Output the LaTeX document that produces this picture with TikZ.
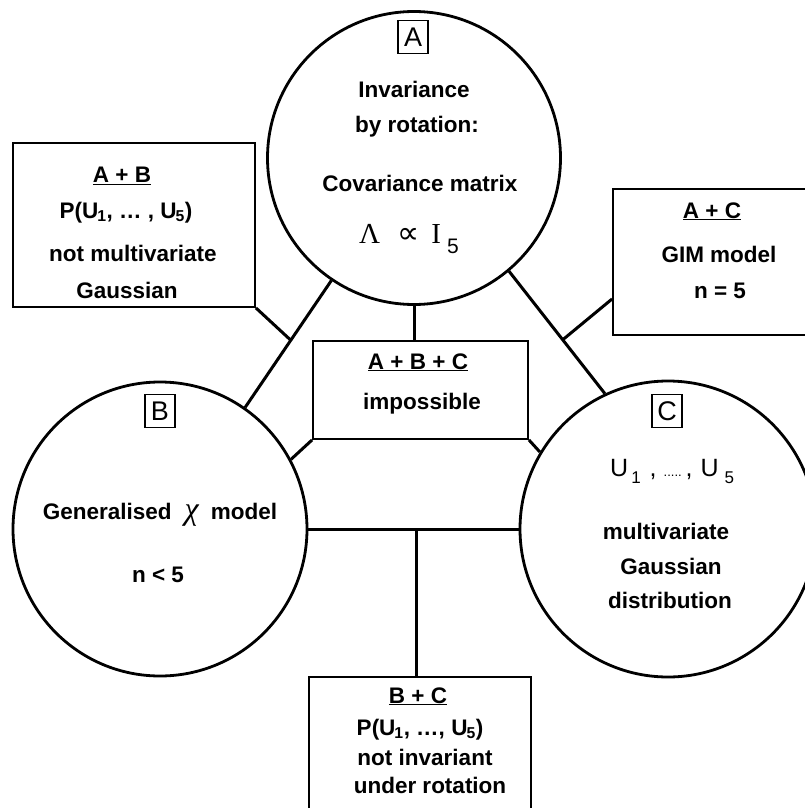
\documentclass[tikz,border=0pt]{standalone}
\usepackage{fontspec}
\setmainfont{Liberation Sans}
\newfontfamily\serifA{Liberation Serif}
\newfontfamily\dejaA{DejaVu Sans}
\usetikzlibrary{calc}
\tikzset{
  circ/.style={circle, draw, line width=2.8pt, inner sep=0pt, minimum size=#1},
  circ/.default=294pt,
  ibox/.style={draw, line width=1.8pt, inner sep=0pt, minimum width=#1},
  lbl/.style={draw, line width=1.6pt, inner sep=0pt, minimum width=30pt, minimum height=33pt,
     font=\fontsize{27}{27}\selectfont},
  txt/.style={inner sep=0pt, text height=16pt, text depth=0pt,
     font=\bfseries\fontsize{22.5}{26}\selectfont},
  conn/.style={line width=3pt},
}
\begin{document}
\begin{tikzpicture}[x=1pt,y=-1pt]
\useasboundingbox (0,0) rectangle (804,808);

% circles
\node[circ=293pt] (A) at (414,158) {};
\node[circ=294pt] (B) at (160,529) {};
\node[circ=296pt] (C) at (668,529) {};

% boxes
\node[ibox=242pt, minimum height=164pt] (AB) at (134,225) {};
\node[ibox=198pt, minimum height=146pt] (AC) at (712,262) {};
\node[ibox=215pt, minimum height=98pt] (ABC) at (420.5,390) {};
\node[ibox=222pt, minimum height=138pt] (BC) at (420,746) {};

% circle labels
\node[lbl] (la) at (413,37) {A};
\node[lbl] (lb) at (160,411) {B};
\node[lbl] (lc) at (667,411) {C};

% texts in A
\node[txt] (a1) at (414,89.5) {Invariance};
\node[txt] (a2) at (417,124.5) {by rotation:};
\node[txt] (a3) at (420,183.5) {Covariance matrix};
\node[inner sep=0pt, anchor=base west, font=\fontsize{29}{30}\selectfont] (a4) at (359,243)
  {{\serifA Λ}\hspace{17pt}{\dejaA\fontsize{31}{31}\selectfont ∝}\hspace{12pt}{\serifA I}\hspace{6pt}\raisebox{-10pt}{\fontsize{21}{21}\selectfont 5}};

% texts in B
\node[txt] (b1) at (160,511) {Generalised\hspace{13pt}{\mdseries\serifA\itshape\fontsize{32}{32}\selectfont χ}\hspace{12pt}model};
\node[txt] (b2) at (158,574) {n < 5};

% texts in C
\node[inner sep=0pt, anchor=base west, font=\fontsize{25}{26}\selectfont] (c1) at (610,476)
  {U\hspace{3pt}\raisebox{-7pt}{\fontsize{17}{17}\selectfont 1}\hspace{9pt},\hspace{7pt}{\fontsize{13}{13}\selectfont.....}\hspace{4pt},\hspace{8pt}U\hspace{6pt}\raisebox{-7pt}{\fontsize{17}{17}\selectfont 5}};
\node[txt] (c2) at (666,531) {multivariate};
\node[txt] (c3) at (671,566) {Gaussian};
\node[txt] (c4) at (670,600) {distribution};

% texts in A+B
\node[txt] (ab1) at (122,174.5) {\underline{A + B}};
\node[txt] (ab2) at (126,210) {P(U\kern-1pt\textsubscript{1}, … , U\kern-1pt\textsubscript{5})};
\node[txt] (ab3) at (133,253) {not multivariate};
\node[txt] (ab4) at (127,290) {Gaussian};

% texts in A+C
\node[txt] (ac1) at (712,210) {\underline{A + C}};
\node[txt] (ac2) at (719,254) {GIM model};
\node[txt] (ac3) at (720,290) {n = 5};

% texts in A+B+C
\node[txt] (abc1) at (418,361) {\underline{A + B + C}};
\node[txt] (abc2) at (422,401) {impossible};

% texts in B+C
\node[txt] (bc1) at (418,695) {\underline{B + C}};
\node[txt] (bc2) at (420,727) {P(U\kern-1pt\textsubscript{1}, …, U\kern-1pt\textsubscript{5})};
\node[txt] (bc3) at (425,757) {not invariant};
\node[txt] (bc4) at (430,785) {under rotation};

% connectors
\draw[conn] (A.-124.5) -- coordinate[pos=0.47] (abm) (B.55);
\draw[conn] (A.-50.8) -- coordinate[pos=0.56] (acm) (C.115);
\draw[conn] (AB.south east) -- (abm);
\draw[conn] ($(AC.south west)!0.25!(AC.north west)$) -- (acm);
\draw[conn] (A.south) -- (A.south |- ABC.north);
\draw[conn] (B.28) -- (ABC.south west);
\draw[conn] (C.149) -- (ABC.south east);
\draw[conn] (B.east) -- coordinate[pos=0.516] (bcm) (C.west);
\draw[conn] (bcm) -- (bcm |- BC.north);
\end{tikzpicture}
\end{document}
